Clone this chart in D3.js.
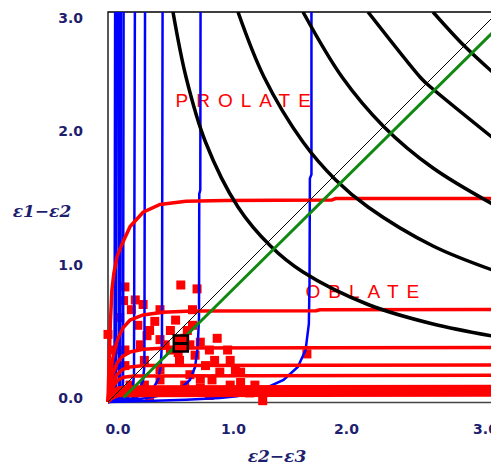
<!DOCTYPE html>
<html>
<head>
<meta charset="utf-8">
<script src="https://cdn.jsdelivr.net/npm/d3@7"></script>
<style>
  body { margin: 0; background: #fff; }
  svg { display: block; }
</style>
</head>
<body>
<svg width="491" height="467"></svg>
<script>
// tick labels
var tickValues = [0, 1, 2, 3];

// blue curves (eps2-eps3, eps1-eps2), vertical asymptotes
var blue1 = [[0,0],[0.3,0.008],[0.6,0.018],[0.86,0.03],[0.99,0.045],[1.12,0.07],[1.22,0.11],[1.35,0.17],[1.46,0.27],[1.52,0.40],[1.545,0.6],[1.55,0.9],[1.553,1.72],[1.565,1.75],[1.565,3.1]];
var blue2 = [[0,0],[0.15,0.012],[0.3,0.03],[0.4,0.05],[0.49,0.077],[0.57,0.115],[0.63,0.17],[0.67,0.27],[0.69,0.42],[0.70,0.65],[0.702,1.6],[0.71,1.63],[0.712,3.1]];
var blue3 = [[0,0],[0.1,0.012],[0.2,0.03],[0.3,0.07],[0.35,0.11],[0.385,0.17],[0.405,0.27],[0.415,0.45],[0.42,3.1]];
var blue4 = [[0,0],[0.08,0.012],[0.15,0.035],[0.21,0.07],[0.25,0.11],[0.27,0.17],[0.28,0.28],[0.285,3.1]];
var blue5 = [[0,0],[0.07,0.015],[0.13,0.045],[0.17,0.08],[0.19,0.12],[0.2,0.2],[0.207,3.1]];
var blue6 = [[0,0],[0.05,0.015],[0.09,0.04],[0.108,0.08],[0.116,0.15],[0.12,3.1]];
var blue7 = [[0,0],[0.045,0.015],[0.08,0.05],[0.095,0.1],[0.1,3.1]];
var blue8 = [[0,0],[0.035,0.02],[0.07,0.06],[0.083,0.12],[0.086,3.1]];
var blue9 = [[0,0],[0.03,0.02],[0.06,0.07],[0.07,3.1]];
var blue10 = [[0,0],[0.025,0.025],[0.05,0.08],[0.055,3.1]];
var blueCurves = [blue1, blue2, blue3, blue4, blue5, blue6, blue7, blue8, blue9, blue10];

// red curves are the mirror image of the blue ones (horizontal asymptotes)
var redCurves = blueCurves.map(function(c) {
    return c.map(function(p) { return [p[1], p[0]]; });
});

// black arcs
var arc1 = [[0.5,3],[0.6,2.5],[0.75,2.0],[1.0,1.5],[1.25,1.2],[1.5,1.0],[2.0,0.75],[2.5,0.6],[3.0,0.5]];
var arc2 = [[1.0,3],[1.2,2.5],[1.5,2.0],[1.75,1.71],[2.0,1.5],[2.5,1.2],[3.0,1.0]];
var arc3 = [[1.5,3],[1.8,2.5],[2.12,2.12],[2.5,1.8],[3.0,1.5]];
var arc4 = [[2.0,3],[2.4,2.5],[2.45,2.45],[3.0,2.0]];
var arc5 = [[2.5,3],[2.74,2.74],[3.0,2.5]];
var arcs = [arc1, arc2, arc3, arc4, arc5];

var greenLine = [[0.12,0.035],[3.2,3.08]];
var diagLine = [[0,0],[3,3]];

// measured samples
var samplesX = [0.13,0.56,0.685,0.27,0.18,0.40,0.0,0.30,0.48,0.61,0.84,0.92,0.71,1.53,1.19,0.23,0.36,0.52,0.65,0.44,0.67,0.78,0.55,0.75,0.86,0.98,0.63,0.80,1.02,0.40,0.28,0.13,0.05,0.03,0.17,0.48,0.71,0.90,1.09,0.08,0.32,0.12,0.59,0.54,
    0.09,0.21,0.32,0.40,0.48,0.63,0.82,0.94,1.02,0.71,0.59,0.40,0.28,0.94,1.13,0.78,1.25,0.13,0.25,0.05,0.65];
var samplesY = [0.885,0.90,0.87,0.75,0.71,0.71,0.52,0.51,0.55,0.55,0.49,0.40,0.46,0.37,0.01,0.59,0.62,0.63,0.59,0.44,0.36,0.40,0.32,0.28,0.23,0.25,0.21,0.17,0.15,0.25,0.32,0.40,0.28,0.17,0.13,0.09,0.11,0.08,0.07,0.05,0.05,0.78,0.49,0.38,
    0.65,0.785,0.55,0.48,0.40,0.44,0.32,0.32,0.23,0.18,0.13,0.17,0.13,0.13,0.13,0.05,0.09,0.28,0.44,0.40,0.71];
var meanPoint = [0.56, 0.45];

var svg = d3.select("svg"),
    width = +svg.attr("width"),
    height = +svg.attr("height");

var x = d3.scaleLinear().domain([0, 3]).range([108, 498]);
var y = d3.scaleLinear().domain([0, 3]).range([402, 12]);

// where the old program put its tick labels
var xLab = d3.scaleLinear().domain(tickValues).range([117.5, 233, 346, 485]);
var yLab = d3.scaleLinear().domain(tickValues).range([398.5, 265, 131.5, 18]);

var navy = "#1e1e6e";

svg.append("rect").attr("width", width).attr("height", height).attr("fill", "#fff");

svg.append("clipPath").attr("id", "plot")
    .append("rect")
    .attr("x", x(0) - 2).attr("y", y(3))
    .attr("width", x(3) - x(0) + 4).attr("height", y(0) - y(3) + 2);

// frame
svg.append("path")
    .attr("d", "M" + x(3) + "," + y(3) + "H" + x(0) + "V" + y(0))
    .attr("fill", "none").attr("stroke", "#000").attr("stroke-width", 1.3);
svg.append("line")
    .attr("x1", x(0)).attr("x2", x(3)).attr("y1", y(0) + 0.5).attr("y2", y(0) + 0.5)
    .attr("stroke", "#444").attr("stroke-width", 1.3);

// axis labels
svg.append("g")
    .attr("transform", "translate(86,0)")
    .call(d3.axisLeft(yLab).tickValues(tickValues).tickFormat(d3.format(".1f")).tickSize(0).tickPadding(3))
    .call(function(g) { g.select(".domain").remove(); })
    .selectAll("text")
    .attr("font-family", "DejaVu Sans").attr("font-weight", "bold").attr("font-size", 14)
    .attr("fill", navy);

svg.append("g")
    .attr("transform", "translate(0,421)")
    .call(d3.axisBottom(xLab).tickValues(tickValues).tickFormat(d3.format(".1f")).tickSize(0).tickPadding(3))
    .call(function(g) { g.select(".domain").remove(); })
    .selectAll("text")
    .attr("font-family", "DejaVu Sans").attr("font-weight", "bold").attr("font-size", 14)
    .attr("fill", navy);

svg.append("text")
    .attr("x", 42).attr("y", 217)
    .attr("text-anchor", "middle")
    .attr("font-family", "DejaVu Serif").attr("font-weight", "bold").attr("font-style", "italic")
    .attr("font-size", 17).attr("fill", navy)
    .text("ε1−ε2");

svg.append("text")
    .attr("x", 277).attr("y", 462)
    .attr("text-anchor", "middle")
    .attr("font-family", "DejaVu Serif").attr("font-weight", "bold").attr("font-style", "italic")
    .attr("font-size", 17).attr("fill", navy)
    .text("ε2−ε3");

// region names
svg.append("text")
    .attr("x", x(0.52)).attr("y", y(2.27))
    .attr("font-family", "Liberation Sans").attr("font-size", 19)
    .attr("letter-spacing", 8).attr("fill", "#f00")
    .text("PROLATE");

svg.append("text")
    .attr("x", x(1.52)).attr("y", y(0.8))
    .attr("font-family", "Liberation Sans").attr("font-size", 19)
    .attr("letter-spacing", 8).attr("fill", "#f00")
    .text("OBLATE");

var line = d3.line()
    .x(function(d) { return x(d[0]); })
    .y(function(d) { return y(d[1]); });

var smooth = d3.line()
    .curve(d3.curveCatmullRom)
    .x(function(d) { return x(d[0]); })
    .y(function(d) { return y(d[1]); });

// samples
svg.append("g")
    .selectAll("rect")
    .data(samplesX)
    .enter().append("rect")
    .attr("x", function(d) { return x(d) - 4.5; })
    .attr("y", function(d, i) { return y(samplesY[i]) - 4.5; })
    .attr("width", 9).attr("height", 9)
    .attr("fill", "#f00");

var plot = svg.append("g").attr("clip-path", "url(#plot)");

plot.append("g")
    .selectAll("path")
    .data(blueCurves)
    .enter().append("path")
    .attr("d", line)
    .attr("fill", "none").attr("stroke", "#00f").attr("stroke-width", 2.5);

plot.append("g")
    .selectAll("path")
    .data(redCurves)
    .enter().append("path")
    .attr("d", line)
    .attr("fill", "none").attr("stroke", "#f00").attr("stroke-width", 3.5);

plot.append("g")
    .selectAll("path")
    .data(arcs)
    .enter().append("path")
    .attr("d", smooth)
    .attr("fill", "none").attr("stroke", "#000").attr("stroke-width", 3.5);

plot.append("path")
    .attr("d", line(diagLine))
    .attr("fill", "none").attr("stroke", "#000").attr("stroke-width", 1);

plot.append("path")
    .attr("d", line(greenLine))
    .attr("fill", "none").attr("stroke", "#118811").attr("stroke-width", 3);

// mean
svg.append("rect")
    .attr("x", x(meanPoint[0]) - 7).attr("y", y(meanPoint[1]) - 8)
    .attr("width", 14).attr("height", 16)
    .attr("fill", "#f00").attr("stroke", "#000").attr("stroke-width", 2.5);
svg.append("line")
    .attr("x1", x(meanPoint[0]) - 7).attr("x2", x(meanPoint[0]) + 7)
    .attr("y1", y(meanPoint[1])).attr("y2", y(meanPoint[1]))
    .attr("stroke", "#000").attr("stroke-width", 3);
</script>
</body>
</html>
